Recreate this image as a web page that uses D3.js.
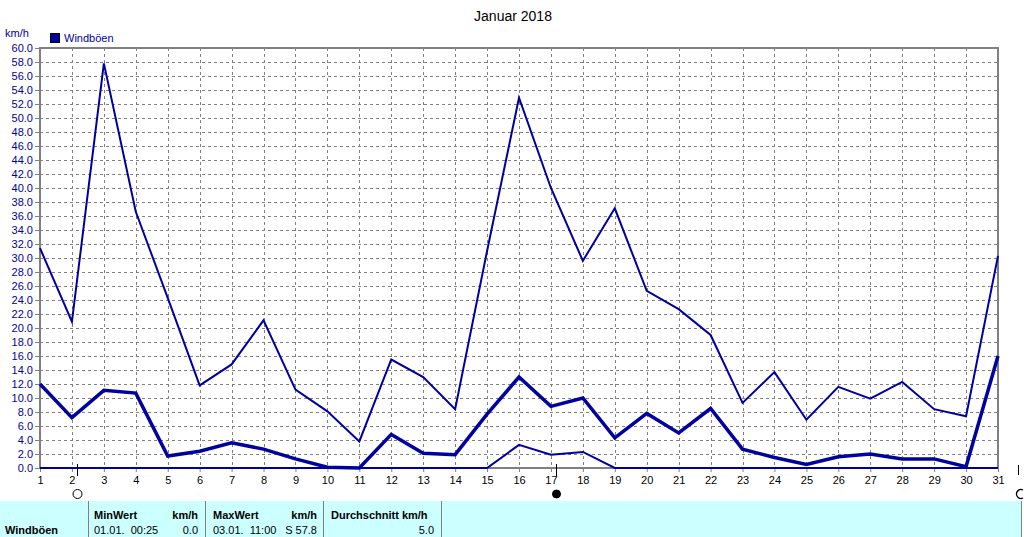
<!DOCTYPE html>
<html><head><meta charset="utf-8">
<script src="https://cdn.jsdelivr.net/npm/d3@7"></script>
<style>body{margin:0;background:#fff}svg{display:block}text{font-family:"Liberation Sans",Arial,sans-serif}</style>
</head><body><svg id="c" width="1024" height="537"></svg>
<script>
const days = d3.range(1, 32);
const maxVals = [31.4,20.9,57.8,36.6,24.3,11.8,14.8,21.1,11.2,8.1,3.8,15.5,13.0,8.4,31.0,52.9,40.0,29.6,37.1,25.3,22.7,19.0,9.3,13.7,6.9,11.6,9.9,12.3,8.4,7.4,30.3];
const meanVals = [12.0,7.2,11.1,10.7,1.7,2.4,3.6,2.7,1.3,0.1,0.0,4.8,2.1,1.9,7.7,13.0,8.8,10.0,4.3,7.8,5.0,8.5,2.7,1.5,0.5,1.6,2.0,1.3,1.3,0.2,16.0];
const minVals = [0,0,0,0,0,0,0,0,0,0,0,0,0,0,0,3.3,1.9,2.3,0,0,0,0,0,0,0,0,0,0,0,0,0];
const yTicks = d3.range(0, 61, 2);
const title = "Januar 2018";
const seriesName = "Windböen";
const unit = "km/h";
const tableHeaders = ["MinWert", "km/h", "MaxWert", "km/h", "Durchschnitt km/h"];
const tableRow = ["Windböen", "01.01.  00:25", "0.0", "03.01.  11:00", "S 57.8", "5.0"];

const svg = d3.select("#c");
const x = d3.scaleLinear().domain([1, 31]).range([40, 998]);
const y = d3.scaleLinear().domain([0, 60]).range([468, 48]);
const blue = "#0000a0";

svg.append("text").attr("x", 513).attr("y", 21).attr("text-anchor", "middle")
  .attr("font-size", 14).attr("fill", "#000").text(title);
svg.append("text").attr("x", 5).attr("y", 37).attr("font-size", 11).attr("fill", blue).text(unit);
svg.append("rect").attr("x", 50.5).attr("y", 33.5).attr("width", 9).attr("height", 9)
  .attr("fill", blue).attr("stroke", "#000");
svg.append("text").attr("x", 64).attr("y", 42).attr("font-size", 11).attr("fill", blue).text(seriesName);

// grid
const g = svg.append("g");
g.selectAll(".hg").data(yTicks.filter(t => t > 0 && t < 60)).enter().append("line")
  .attr("x1", 40).attr("x2", 998).attr("y1", d => y(d) + 0.5).attr("y2", d => y(d) + 0.5)
  .attr("stroke", "#808080").attr("stroke-dasharray", "3,3");
g.selectAll(".vg").data(days.filter(d => d > 1 && d < 31)).enter().append("line")
  .attr("y1", 48).attr("y2", 468).attr("x1", d => Math.round(x(d)) + 0.5).attr("x2", d => Math.round(x(d)) + 0.5)
  .attr("stroke", "#808080").attr("stroke-dasharray", "3,3");

// axes
const yAxis = d3.axisLeft(y).tickValues(yTicks).tickFormat(d3.format(".1f")).tickSize(5).tickPadding(2);
const ya = svg.append("g").attr("transform", "translate(40,0)").call(yAxis);
ya.select(".domain").remove();
ya.selectAll("line").attr("stroke", "#808080");
ya.selectAll("text").attr("fill", blue).attr("font-size", 11).attr("font-family", '"Liberation Sans",Arial,sans-serif');

const xAxis = d3.axisBottom(x).tickValues(days).tickFormat(d3.format("d")).tickSize(4).tickPadding(4);
const xa = svg.append("g").attr("transform", "translate(0,468)").call(xAxis);
xa.select(".domain").remove();
xa.selectAll("line").attr("stroke", "#808080");
xa.selectAll("text").attr("fill", "#000").attr("font-size", 11).attr("font-family", '"Liberation Sans",Arial,sans-serif');

// frame
svg.append("rect").attr("x", 40).attr("y", 48).attr("width", 958).attr("height", 420)
  .attr("fill", "none").attr("stroke", "#808080").attr("stroke-width", 2);

// lines
const line = d3.line().x((d, i) => x(days[i])).y(d => y(d));
svg.append("path").datum(maxVals).attr("d", line).attr("fill", "none").attr("stroke", blue).attr("stroke-width", 2);
svg.append("path").datum(meanVals).attr("d", line).attr("fill", "none").attr("stroke", blue).attr("stroke-width", 3.5);
svg.append("path").datum(minVals).attr("d", line).attr("fill", "none").attr("stroke", blue).attr("stroke-width", 2);

// moon phases
const moon = svg.append("g");
moon.append("line").attr("x1", 77.5).attr("x2", 77.5).attr("y1", 464).attr("y2", 476).attr("stroke", "#000");
moon.append("circle").attr("cx", 77.5).attr("cy", 494).attr("r", 4.5).attr("fill", "#fff").attr("stroke", "#000");
moon.append("line").attr("x1", 556.5).attr("x2", 556.5).attr("y1", 464).attr("y2", 476).attr("stroke", "#000");
moon.append("circle").attr("cx", 556.5).attr("cy", 494).attr("r", 4).attr("fill", "#000").attr("stroke", "#000");
moon.append("line").attr("x1", 1018.5).attr("x2", 1018.5).attr("y1", 465).attr("y2", 475).attr("stroke", "#000");
moon.append("path").attr("d", "M1023,490 A4.5,4.5 0 1 0 1023,498").attr("fill", "none").attr("stroke", "#000").attr("stroke-width", 1.3);

// table
svg.append("rect").attr("x", 0).attr("y", 501).attr("width", 1021).attr("height", 36).attr("fill", "#ccffff");
[88, 205, 323, 441].forEach(sx => {
  svg.append("line").attr("x1", sx + 0.5).attr("x2", sx + 0.5).attr("y1", 501).attr("y2", 537).attr("stroke", "#808080");
});
svg.append("line").attr("x1", 1021.5).attr("x2", 1021.5).attr("y1", 501).attr("y2", 537).attr("stroke", "#808080");
const t = svg.append("g").attr("font-size", 11);
const hdr = [[94, "start"], [198, "end"], [213, "start"], [317, "end"], [331, "start"]];
hdr.forEach((h, i) => t.append("text").attr("x", h[0]).attr("y", 519).attr("text-anchor", h[1])
  .attr("font-weight", "bold").attr("font-size", 11).text(tableHeaders[i]));
t.append("text").attr("x", 5).attr("y", 534).attr("font-weight", "bold").attr("font-size", 11).text(tableRow[0]);
const cells = [[94, "start"], [198, "end"], [213, "start"], [317, "end"], [434, "end"]];
cells.forEach((c, i) => t.append("text").attr("x", c[0]).attr("y", 534).attr("text-anchor", c[1])
  .attr("font-size", 11).attr("xml:space", "preserve").style("white-space", "pre").text(tableRow[i + 1]));
</script></body></html>
